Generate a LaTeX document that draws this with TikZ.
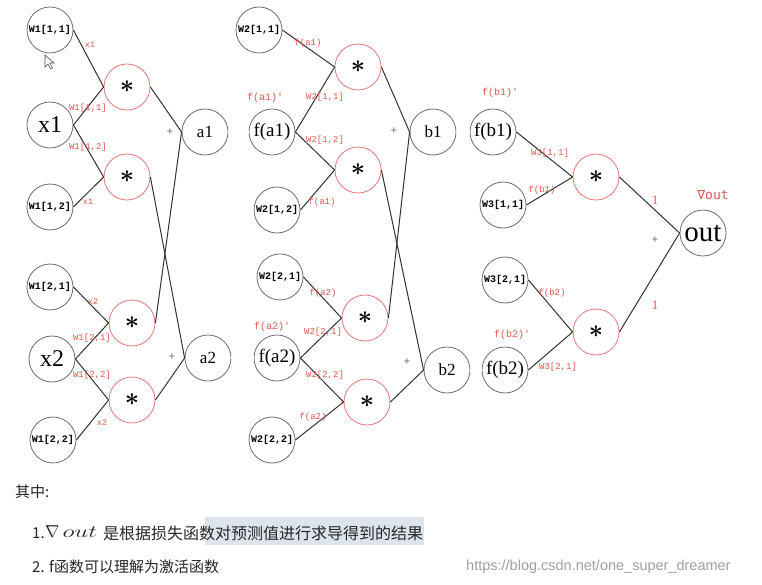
\documentclass[tikz,border=0pt]{standalone}
\usepackage{fontspec}
\usepackage{graphicx}
\setmainfont{Liberation Serif}
\setmonofont{Liberation Mono}
\newfontfamily\cjk{Noto Sans CJK SC}
\newfontfamily\wmfont{Liberation Sans}
\newfontfamily\dvmono{DejaVu Sans Mono}
\definecolor{cgray}{RGB}{110,110,110}
\definecolor{cred}{RGB}{232,120,120}
\definecolor{tred}{RGB}{226,86,76}
\definecolor{cline}{RGB}{50,50,50}
\definecolor{hil}{RGB}{221,228,236}
\definecolor{wmgray}{RGB}{160,160,160}
\begin{document}
\begin{tikzpicture}[x=1pt,y=-1pt,
  base/.style={circle, line width=0.8pt, minimum size=46pt, inner sep=0pt},
  gnode/.style={base, draw=cgray},
  wnode/.style={gnode, font=\ttfamily\bfseries\fontsize{10}{10}\selectfont},
  xnode/.style={gnode, font=\fontsize{24}{24}\selectfont},
  anode/.style={gnode, font=\fontsize{17}{17}\selectfont},
  fnode/.style={gnode, font=\fontsize{19}{19}\selectfont},
  onode/.style={gnode, font=\fontsize{29}{29}\selectfont},
  mul/.style={base, draw=cred, font=\fontsize{24}{24}\selectfont},
  lbl/.style={text=tred, inner sep=0pt, font=\ttfamily\fontsize{9}{9}\selectfont},
  lblb/.style={text=tred, inner sep=0pt, font=\ttfamily\fontsize{10}{10}\selectfont},
  lbls/.style={text=tred, inner sep=0pt, font=\ttfamily\fontsize{8.5}{8.5}\selectfont},
  plus/.style={inner sep=0pt, text=black!75, font=\fontsize{12}{12}\selectfont},
  conn/.style={draw=cline, line width=1pt},
  dbl/.style={draw=cline, double=white, double distance=1.4pt, line width=0.6pt},
  cjkt/.style={inner sep=0pt, anchor=west, text=black!85}
]
\useasboundingbox (0,0) rectangle (762,585);
\newcommand{\mulsym}{{\boldmath$\ast$}}

% layer 1
\node[wnode] (w111) at (50,30) {W1[1,1]};
\node[xnode] (x1) at (50,125) {x1};
\node[wnode] (w112) at (50,207) {W1[1,2]};
\node[wnode] (w121) at (50,287) {W1[2,1]};
\node[xnode] (x2) at (52,359) {x2};
\node[wnode] (w122) at (53,440) {W1[2,2]};
\node[mul] (m1) at (127,87) {\mulsym};
\node[mul] (m2) at (127,177) {\mulsym};
\node[mul] (m3) at (132,323) {\mulsym};
\node[mul] (m4) at (132,400) {\mulsym};
\node[anode] (a1) at (205,132) {a1};
\node[anode] (a2) at (208,358) {a2};
\node[fnode] (fa1) at (272,132) {f(a1)};
\node[fnode] (fa2) at (277,358) {f(a2)};

% layer 2
\node[wnode] (w211) at (259,30) {W2[1,1]};
\node[wnode] (w212) at (277,210) {W2[1,2]};
\node[wnode] (w221) at (280,277) {W2[2,1]};
\node[wnode] (w222) at (272,440) {W2[2,2]};
\node[mul] (m5) at (358,67) {\mulsym};
\node[mul] (m6) at (358,170) {\mulsym};
\node[mul] (m7) at (365,318) {\mulsym};
\node[mul] (m8) at (367,402) {\mulsym};
\node[anode] (b1) at (433,132) {b1};
\node[anode] (b2) at (447,370) {b2};
\node[fnode] (fb1) at (493,132) {f(b1)};
\node[fnode] (fb2) at (505,370) {f(b2)};

% layer 3
\node[wnode] (w311) at (503,205) {W3[1,1]};
\node[wnode] (w321) at (505,280) {W3[2,1]};
\node[mul] (m9) at (596,177) {\mulsym};
\node[mul] (m10) at (596,332) {\mulsym};
\node[onode] (out) at (703,233) {out};

% connectors
\draw[conn] (w111.east) -- (m1.west);
\draw[conn] (x1.east) -- (m1.west);
\draw[conn] (x1.east) -- (m2.west);
\draw[conn] (w112.east) -- (m2.west);
\draw[conn] (w121.east) -- (m3.west);
\draw[conn] (x2.east) -- (m3.west);
\draw[conn] (x2.east) -- (m4.west);
\draw[conn] (w122.east) -- (m4.west);
\draw[conn] (m1.east) -- (a1.west);
\draw[conn] (m3.east) -- (a1.west);
\draw[conn] (m2.east) -- (a2.west);
\draw[conn] (m4.east) -- (a2.west);
\draw[dbl] (a1.east) -- (fa1.west);
\draw[dbl] (a2.east) -- (fa2.west);

\draw[conn] (w211.east) -- (m5.west);
\draw[conn] (fa1.east) -- (m5.west);
\draw[conn] (fa1.east) -- (m6.west);
\draw[conn] (w212.east) -- (m6.west);
\draw[conn] (w221.east) -- (m7.west);
\draw[conn] (fa2.east) -- (m7.west);
\draw[conn] (fa2.east) -- (m8.west);
\draw[conn] (w222.east) -- (m8.west);
\draw[conn] (m5.east) -- (b1.west);
\draw[conn] (m7.east) -- (b1.west);
\draw[conn] (m6.east) -- (b2.west);
\draw[conn] (m8.east) -- (b2.west);
\draw[dbl] (b1.east) -- (fb1.west);
\draw[dbl] (b2.east) -- (fb2.west);

\draw[conn] (fb1.east) -- (m9.west);
\draw[conn] (w311.east) -- (m9.west);
\draw[conn] (w321.east) -- (m10.west);
\draw[conn] (fb2.east) -- (m10.west);
\draw[conn] (m9.east) -- (out.west);
\draw[conn] (m10.east) -- (out.west);

% plus signs
\node[plus] (p1) at (170,132) {+};
\node[plus] (p2) at (172,357) {+};
\node[plus] (p3) at (394,131) {+};
\node[plus] (p4) at (407,362) {+};
\node[plus] (p5) at (655,240) {+};

% red labels layer 1
\node[lbls] (l1) at (90,45) {x1};
\node[lbl] (l2) at (88,108) {W1[1,1]};
\node[lbl] (l3) at (88,147) {W1[1,2]};
\node[lbls] (l4) at (88,202) {x1};
\node[lbls] (l5) at (93,302) {x2};
\node[lbl] (l6) at (92,338) {W1[2,1]};
\node[lbl] (l7) at (92,375) {W1[2,2]};
\node[lbls] (l8) at (102,423) {x2};

% red labels layer 2
\node[lbl] (l9) at (308,43) {f(a1)};
\node[lblb] (l10) at (265,98) {f(a1)'};
\node[lbl] (l11) at (325,97) {W2[1,1]};
\node[lbl] (l12) at (325,140) {W2[1,2]};
\node[lbl] (l13) at (322,202) {f(a1)};
\node[lbl] (l14) at (323,293) {f(a2)};
\node[lblb] (l15) at (272,327) {f(a2)'};
\node[lbl] (l16) at (323,332) {W2[2,1]};
\node[lbl] (l17) at (325,375) {W2[2,2]};
\node[lbl] (l18) at (313,417) {f(a2)};

% red labels layer 3
\node[lblb] (l19) at (500,93) {f(b1)'};
\node[lbl] (l20) at (550,153) {W3[1,1]};
\node[lbl] (l21) at (542,190) {f(b1)};
\node[lbl] (l22) at (552,293) {f(b2)};
\node[lblb] (l23) at (512,335) {f(b2)'};
\node[lbl] (l24) at (558,367) {W3[2,1]};
\node[text=tred, inner sep=0pt, font=\dvmono\fontsize{13}{13}\selectfont] (l25) at (713,195) {∇out};
\node[text=tred, inner sep=0pt, font=\fontsize{13}{13}\selectfont] (l26) at (655,200) {1};
\node[text=tred, inner sep=0pt, font=\fontsize{13}{13}\selectfont] (l27) at (655,305) {1};

% cursor
\draw[draw=black!70, fill=white, line width=0.6pt] (45,55) -- (45,67) -- (48,64) -- (50.5,69) -- (52.5,68) -- (50,63) -- (54,63) -- cycle;

% bottom text
\fill[hil] (205,517) rectangle (424,545);
\node[cjkt, font=\cjk\fontsize{15}{15}\selectfont] (t0) at (15,492) {其中:};
\node[cjkt, font=\cjk\fontsize{15}{15}\selectfont] (t1a) at (32,533) {1.};
\node[cjkt, font=\fontsize{18}{18}\selectfont] (t1b) at (45,532) {$\nabla$\,\scalebox{1.45}[1]{$out$}};
\node[cjkt, font=\cjk\fontsize{16}{16}\selectfont] (t1c) at (103,533) {是根据损失函数对预测值进行求导得到的结果};
\node[cjkt, font=\cjk\fontsize{15}{15}\selectfont] (t2) at (32,567) {2. f函数可以理解为激活函数};
\node[inner sep=0pt, anchor=west, text=wmgray, font=\wmfont\fontsize{14.5}{14.5}\selectfont] (wm) at (466,567) {https://blog.csdn.net/one\_super\_dreamer};
\end{tikzpicture}
\end{document}
